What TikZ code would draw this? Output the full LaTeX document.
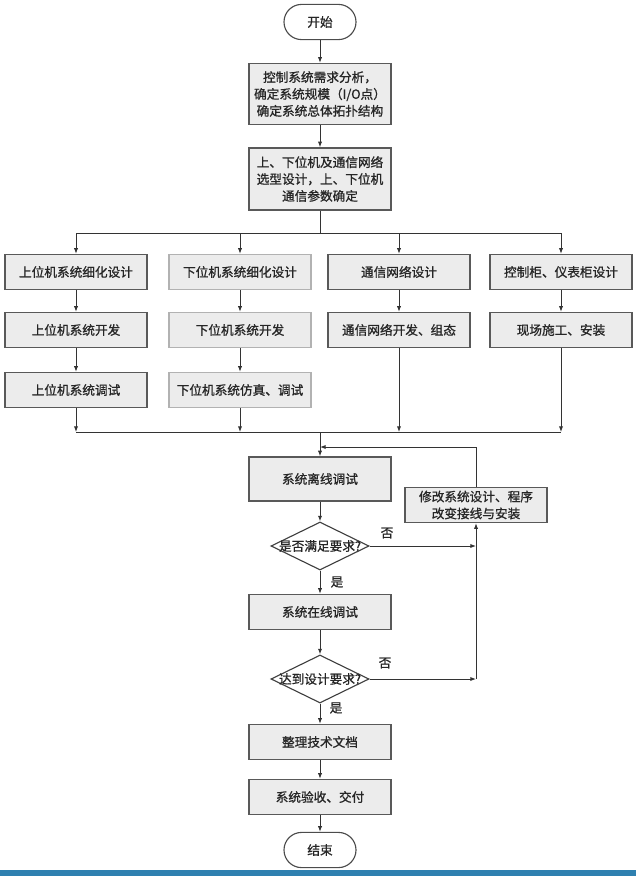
\documentclass[tikz,border=0pt]{standalone}
\usepackage{fontspec}
\newfontfamily\cjk[FakeBold=1]{Noto Sans CJK SC}
\definecolor{boxfill}{RGB}{236, 236, 236}
\definecolor{barblue}{RGB}{47, 128, 176}
\usetikzlibrary{shapes, shapes.geometric, arrows.meta, positioning, calc}

\tikzset{
    txt/.style={font=\cjk\fontsize{9}{12}\selectfont, text=black!85},
    box/.style={txt, draw=black!65, fill=boxfill, line width=1pt, align=center,
                minimum width=3.55cm, minimum height=0.875cm, inner sep=2pt},
    lightbox/.style={box, draw=black!30},
    term/.style={txt, draw=black!70, fill=white, line width=0.8pt, rounded corners=0.44cm,
                 minimum width=1.8cm, minimum height=0.88cm},
    decision/.style={draw=black!75, fill=white, diamond, line width=0.8pt, inner sep=0pt,
                     minimum width=2.45cm, minimum height=1.2cm},
    link/.style={draw=black!80, line width=0.7pt},
    arrow/.style={link, -{Latex[length=4pt, width=3pt]}}
}

\begin{document}
\begin{tikzpicture}[x=0.025cm, y=-0.025cm]
    \useasboundingbox (0,0) rectangle (636,876);

    % Start and planning
    \node[term] (start) at (320,22) {开始};
    \node[box, minimum height=1.525cm] (req) at (320,94)
        {控制系统需求分析，\\确定系统规模（I/O点）\\确定系统总体拓扑结构};
    \node[box, minimum height=1.55cm] (plan) at (320,179)
        {上、下位机及通信网络\\选型设计，上、下位机\\通信参数确定};
    \draw[arrow] (start) -- (req);
    \draw[arrow] (req) -- (plan);

    % Four parallel branches
    \node[box] (upA) at (76,272) {上位机系统细化设计};
    \node[box] (upB) at (76,330) {上位机系统开发};
    \node[box] (upC) at (76,390) {上位机系统调试};
    \node[lightbox] (lowA) at (240,272) {下位机系统细化设计};
    \node[lightbox] (lowB) at (240,330) {下位机系统开发};
    \node[lightbox] (lowC) at (240,390) {下位机系统仿真、调试};
    \node[box] (netA) at (399,272) {通信网络设计};
    \node[box] (netB) at (399,330) {通信网络开发、组态};
    \node[box] (cabA) at (561,272) {控制柜、仪表柜设计};
    \node[box] (cabB) at (561,330) {现场施工、安装};

    \coordinate (split) at (320,233);
    \coordinate (merge) at (320,432);
    \draw[link] (plan) -- (split);
    \draw[link] (upA.north |- split) -- (cabA.north |- split);
    \foreach \n in {upA, lowA, netA, cabA} {
        \draw[arrow] (\n.north |- split) -- (\n);
    }
    \foreach \a/\b in {upA/upB, upB/upC, lowA/lowB, lowB/lowC, netA/netB, cabA/cabB} {
        \draw[arrow] (\a) -- (\b);
    }
    \foreach \n in {upC, lowC, netB, cabB} {
        \draw[arrow] (\n) -- (\n |- merge);
    }
    \draw[link] (upC |- merge) -- (cabB |- merge);

    % Debugging loop
    \node[box, minimum height=1.1cm] (offline) at (320,479) {系统离线调试};
    \node[decision] (ok1) at (320,546) {};
    \node[txt] at (ok1) {是否满足要求?};
    \node[box] (online) at (320,612) {系统在线调试};
    \node[decision] (ok2) at (320,679) {};
    \node[txt] at (ok2) {达到设计要求?};
    \node[box] (fix) at (476,505) {修改系统设计、程序\\改变接线与安装};

    \coordinate (back) at (320,447);
    \draw[arrow] (merge) -- (offline);
    \draw[arrow] (fix.north) |- (back);
    \draw[arrow] (offline) -- (ok1);
    \draw[arrow] (ok1) -- (online);
    \draw[arrow] (online) -- (ok2);
    \draw[arrow] (ok1) -- (ok1 -| fix);
    \draw[arrow] (ok2) -- (ok2 -| fix);
    \draw[arrow] (ok2 -| fix) -- (fix);
    \node[txt] (no1) at (387,533) {否};
    \node[txt] (yes1) at (337,582) {是};
    \node[txt] (no2) at (385,663) {否};
    \node[txt] (yes2) at (336,708) {是};

    % Wrap up
    \node[box] (docs) at (320,742) {整理技术文档};
    \node[box] (deliver) at (320,797) {系统验收、交付};
    \node[term] (stop) at (320,850) {结束};
    \draw[arrow] (ok2) -- (docs);
    \draw[arrow] (docs) -- (deliver);
    \draw[arrow] (deliver) -- (stop);

    \fill[barblue] (0,870) rectangle (636,876);
\end{tikzpicture}
\end{document}
